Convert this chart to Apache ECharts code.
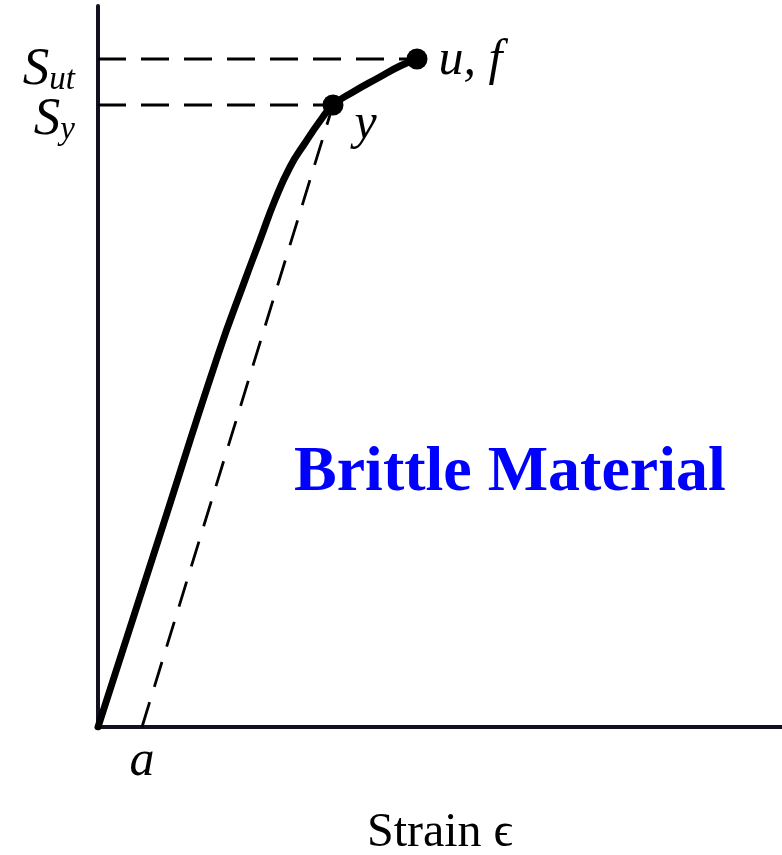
<!DOCTYPE html>
<html>
<head>
<meta charset="utf-8">
<script src="https://cdn.jsdelivr.net/npm/echarts@6/dist/echarts.min.js"></script>
<style>
  html, body { margin: 0; padding: 0; background: #fff; }
  #chart { width: 782px; height: 855px; }
</style>
</head>
<body>
<div id="chart"></div>
<script>
// stress-strain curve (arbitrary units)
var curveStrain = [0, 60, 120, 147, 162, 177, 192, 207, 222, 235, 255, 280, 302, 319];
var curveStress = [0, 186, 372, 447, 487, 527, 560, 584, 606, 622, 635, 649, 661, 668];

// marked points: yield and ultimate/fracture
var pointStrain = [235, 319];
var pointStress = [622, 668];
var pointLabels = ['y', 'u, f'];

// permanent set after unloading from yield
var offsetStrain = 44;
var xTickLabels = ['a'];

// stress tick labels (S with subscript)
var stressTicks = [622, 668];
var stressSubs = ['y', 'ut'];

var serif = '"Liberation Serif", "DejaVu Serif", serif';
var ink = '#000';

var chart = echarts.init(document.getElementById('chart'));

var curveData = curveStrain.map(function (x, i) { return [x, curveStress[i]]; });
var pointData = pointStrain.map(function (x, i) {
    return { value: [x, pointStress[i]], name: pointLabels[i] };
});

// one axis per label so the two close labels are both kept
function stressAxis(i, showLine, drop) {
    return {
        type: 'value',
        min: 0,
        max: 721,
        position: 'left',
        axisLine: { show: showLine, lineStyle: { color: '#151020', width: 4 } },
        axisTick: { show: false },
        splitLine: { show: false },
        axisLabel: {
            customValues: [stressTicks[i]],
            margin: 23,
            hideOverlap: false,
            padding: [drop, 0, 0, 0],
            formatter: function () {
                return '{s|S}{sub|' + stressSubs[i] + '}';
            },
            rich: {
                s: { fontFamily: serif, fontStyle: 'italic', fontSize: 53, color: ink, lineHeight: 53, verticalAlign: 'bottom' },
                sub: { fontFamily: serif, fontStyle: 'italic', fontSize: 33, color: ink, lineHeight: 33, verticalAlign: 'bottom' }
            }
        }
    };
}

var option = {
    animation: false,
    backgroundColor: '#fff',
    title: {
        text: 'Brittle Material',
        left: 294,
        top: 441,
        padding: 0,
        textStyle: { fontFamily: serif, fontSize: 64, fontWeight: 'bold', color: '#0000ff' }
    },
    grid: { left: 98, right: 0, top: 6, bottom: 128, containLabel: false, outerBoundsMode: 'none' },
    xAxis: {
        type: 'value',
        min: 0,
        max: 684,
        name: 'Strain \u03f5',
        nameLocation: 'middle',
        nameGap: 82,
        nameTextStyle: { fontFamily: serif, fontSize: 48, color: ink },
        axisLine: { show: true, lineStyle: { color: '#151020', width: 4 } },
        axisTick: { show: false },
        splitLine: { show: false },
        axisLabel: {
            customValues: [offsetStrain],
            formatter: function () { return xTickLabels[0]; },
            margin: 10,
            hideOverlap: false,
            fontFamily: serif,
            fontStyle: 'italic',
            fontSize: 50,
            color: ink
        }
    },
    yAxis: [stressAxis(1, true, 22), stressAxis(0, false, 30)],
    series: [
        {
            // horizontal guides to the S_ut and S_y levels
            type: 'line',
            data: [[0, pointStress[1]], [pointStrain[1], pointStress[1]]],
            symbol: 'none',
            lineStyle: { color: ink, width: 2.8, type: [28, 15] },
            z: 1
        },
        {
            type: 'line',
            data: [[0, pointStress[0]], [pointStrain[0], pointStress[0]]],
            symbol: 'none',
            lineStyle: { color: ink, width: 2.8, type: [28, 15] },
            z: 1
        },
        {
            // elastic unloading line from y down to a
            type: 'line',
            data: [[offsetStrain, 0], [pointStrain[0], pointStress[0]]],
            symbol: 'none',
            lineStyle: { color: ink, width: 2.8, type: [26, 16] },
            z: 1
        },
        {
            type: 'line',
            data: curveData,
            smooth: 0.5,
            symbol: 'none',
            lineStyle: { color: ink, width: 7, cap: 'round' },
            z: 2
        },
        {
            type: 'scatter',
            data: pointData,
            symbolSize: 21,
            itemStyle: { color: ink, opacity: 1 },
            z: 3,
            label: {
                show: true,
                formatter: '{b}',
                position: 'right',
                fontFamily: serif,
                fontStyle: 'italic',
                fontSize: 50,
                color: ink
            },
            labelLayout: function (params) {
                if (params.dataIndex === 0) {
                    return { dx: 6, dy: 20 };
                }
                return { dx: 6, dy: 2 };
            }
        }
    ]
};

chart.setOption(option);

window.addEventListener('resize', function () {
    chart.resize();
});
</script>
</body>
</html>
